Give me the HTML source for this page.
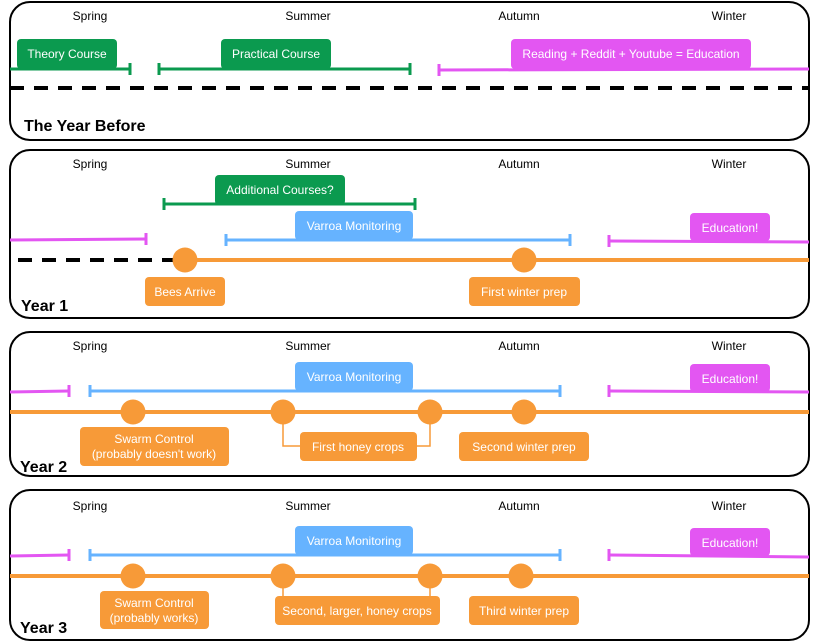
<!DOCTYPE html>
<html><head><meta charset="utf-8"><style>
html,body{margin:0;padding:0;background:#fff;}
svg{display:block;}
text{font-family:"Liberation Sans",Arial,sans-serif;}
.s{font-size:12px;fill:#000;text-anchor:middle;}
.w{font-size:12px;fill:#fff;text-anchor:middle;}
.t{font-size:16px;font-weight:bold;fill:#000;}
</style></head><body>
<svg width="819" height="642" viewBox="0 0 819 642" xmlns="http://www.w3.org/2000/svg">
<g fill="none" stroke="#000" stroke-width="2">
<rect x="10" y="2" width="799" height="138" rx="20"/>
<rect x="10" y="150" width="799" height="168" rx="20"/>
<rect x="10" y="332" width="799" height="144" rx="20"/>
<rect x="10" y="490" width="799" height="150" rx="20"/>
</g>

<!-- Panel 1 -->
<text class="s" x="90" y="20">Spring</text><text class="s" x="308" y="20">Summer</text>
<text class="s" x="519" y="20">Autumn</text><text class="s" x="729" y="20">Winter</text>
<g stroke="#0b9a4f" stroke-width="3" fill="none">
<line x1="10" y1="69" x2="130" y2="69"/><line x1="130" y1="63" x2="130" y2="75"/>
<line x1="159" y1="69" x2="410" y2="69"/><line x1="159" y1="63" x2="159" y2="75"/><line x1="410" y1="63" x2="410" y2="75"/>
</g>
<rect x="17" y="39" width="100" height="30" rx="4" fill="#0b9a4f"/>
<text class="w" x="67" y="58">Theory Course</text>
<rect x="221" y="39" width="110" height="30" rx="4" fill="#0b9a4f"/>
<text class="w" x="276" y="58">Practical Course</text>
<g stroke="#e356f2" stroke-width="3"><line x1="439" y1="70" x2="809" y2="69"/><line x1="439" y1="64" x2="439" y2="76"/></g>
<rect x="511" y="39" width="240" height="30" rx="4" fill="#e356f2"/>
<text class="w" x="631" y="58">Reading + Reddit + Youtube = Education</text>
<line x1="10" y1="88" x2="809" y2="88" stroke="#000" stroke-width="4" stroke-dasharray="14,10"/>
<text class="t" x="24" y="131">The Year Before</text>

<!-- Panel 2 -->
<text class="s" x="90" y="168">Spring</text><text class="s" x="308" y="168">Summer</text>
<text class="s" x="519" y="168">Autumn</text><text class="s" x="729" y="168">Winter</text>
<g stroke="#0b9a4f" stroke-width="3"><line x1="164" y1="204" x2="415" y2="204"/><line x1="164" y1="198" x2="164" y2="210"/><line x1="415" y1="198" x2="415" y2="210"/></g>
<rect x="215" y="175" width="130" height="30" rx="4" fill="#0b9a4f"/>
<text class="w" x="280" y="194">Additional Courses?</text>
<g stroke="#66b3ff" stroke-width="3"><line x1="226" y1="240" x2="570" y2="240"/><line x1="226" y1="234" x2="226" y2="246"/><line x1="570" y1="234" x2="570" y2="246"/></g>
<rect x="295" y="211" width="118" height="29" rx="4" fill="#66b3ff"/>
<text class="w" x="354" y="230">Varroa Monitoring</text>
<g stroke="#e356f2" stroke-width="3"><line x1="10" y1="240" x2="146" y2="239"/><line x1="146" y1="233" x2="146" y2="245"/>
<line x1="609" y1="241" x2="809" y2="242"/><line x1="609" y1="235" x2="609" y2="247"/></g>
<rect x="690" y="213" width="80" height="28" rx="4" fill="#e356f2"/>
<text class="w" x="730" y="232">Education!</text>
<line x1="18" y1="260" x2="185" y2="260" stroke="#000" stroke-width="4" stroke-dasharray="14,10"/>
<line x1="185" y1="260" x2="809" y2="260" stroke="#f79a38" stroke-width="4"/>
<circle cx="185" cy="260" r="12.5" fill="#f79a38"/><circle cx="524" cy="260" r="12.5" fill="#f79a38"/>
<rect x="145" y="277" width="80" height="29" rx="4" fill="#f79a38"/><text class="w" x="185" y="296">Bees Arrive</text>
<rect x="469" y="277" width="111" height="29" rx="4" fill="#f79a38"/><text class="w" x="524" y="296">First winter prep</text>
<text class="t" x="21" y="311">Year 1</text>

<!-- Panel 3 -->
<text class="s" x="90" y="350">Spring</text><text class="s" x="308" y="350">Summer</text>
<text class="s" x="519" y="350">Autumn</text><text class="s" x="729" y="350">Winter</text>
<g stroke="#e356f2" stroke-width="3"><line x1="10" y1="392" x2="69" y2="391"/><line x1="69" y1="385" x2="69" y2="397"/>
<line x1="609" y1="391" x2="809" y2="392"/><line x1="609" y1="385" x2="609" y2="397"/></g>
<g stroke="#66b3ff" stroke-width="3"><line x1="90" y1="391" x2="560" y2="391"/><line x1="90" y1="385" x2="90" y2="397"/><line x1="560" y1="385" x2="560" y2="397"/></g>
<rect x="295" y="362" width="118" height="29" rx="4" fill="#66b3ff"/><text class="w" x="354" y="381">Varroa Monitoring</text>
<rect x="690" y="364" width="80" height="28" rx="4" fill="#e356f2"/><text class="w" x="730" y="383">Education!</text>
<line x1="10" y1="412" x2="809" y2="412" stroke="#f79a38" stroke-width="4"/>
<path d="M283 412 V446 H300 M430 412 V446 H417" stroke="#f79a38" stroke-width="1.5" fill="none"/>
<g fill="#f79a38"><circle cx="133" cy="412" r="12.5"/><circle cx="283" cy="412" r="12.5"/><circle cx="430" cy="412" r="12.5"/><circle cx="524" cy="412" r="12.5"/></g>
<rect x="80" y="427" width="149" height="39" rx="4" fill="#f79a38"/>
<text class="w" x="154" y="443">Swarm Control</text><text class="w" x="154" y="458">(probably doesn't work)</text>
<rect x="300" y="432" width="117" height="29" rx="4" fill="#f79a38"/><text class="w" x="358" y="451">First honey crops</text>
<rect x="459" y="432" width="130" height="29" rx="4" fill="#f79a38"/><text class="w" x="524" y="451">Second winter prep</text>
<text class="t" x="20" y="472">Year 2</text>

<!-- Panel 4 -->
<text class="s" x="90" y="510">Spring</text><text class="s" x="308" y="510">Summer</text>
<text class="s" x="519" y="510">Autumn</text><text class="s" x="729" y="510">Winter</text>
<g stroke="#e356f2" stroke-width="3"><line x1="10" y1="556" x2="69" y2="555"/><line x1="69" y1="549" x2="69" y2="561"/>
<line x1="609" y1="555" x2="809" y2="557"/><line x1="609" y1="549" x2="609" y2="561"/></g>
<g stroke="#66b3ff" stroke-width="3"><line x1="90" y1="555" x2="560" y2="555"/><line x1="90" y1="549" x2="90" y2="561"/><line x1="560" y1="549" x2="560" y2="561"/></g>
<rect x="295" y="526" width="118" height="29" rx="4" fill="#66b3ff"/><text class="w" x="354" y="545">Varroa Monitoring</text>
<rect x="690" y="528" width="80" height="28" rx="4" fill="#e356f2"/><text class="w" x="730" y="547">Education!</text>
<line x1="10" y1="576" x2="809" y2="576" stroke="#f79a38" stroke-width="4"/>
<path d="M283 576 V596 M430 576 V596" stroke="#f79a38" stroke-width="1.5" fill="none"/>
<g fill="#f79a38"><circle cx="133" cy="576" r="12.5"/><circle cx="283" cy="576" r="12.5"/><circle cx="430" cy="576" r="12.5"/><circle cx="521" cy="576" r="12.5"/></g>
<rect x="100" y="591" width="109" height="38" rx="4" fill="#f79a38"/>
<text class="w" x="154" y="607">Swarm Control</text><text class="w" x="154" y="622">(probably works)</text>
<rect x="275" y="596" width="165" height="29" rx="4" fill="#f79a38"/><text class="w" x="357" y="615">Second, larger, honey crops</text>
<rect x="469" y="596" width="110" height="29" rx="4" fill="#f79a38"/><text class="w" x="524" y="615">Third winter prep</text>
<text class="t" x="20" y="633">Year 3</text>
</svg>
</body></html>
